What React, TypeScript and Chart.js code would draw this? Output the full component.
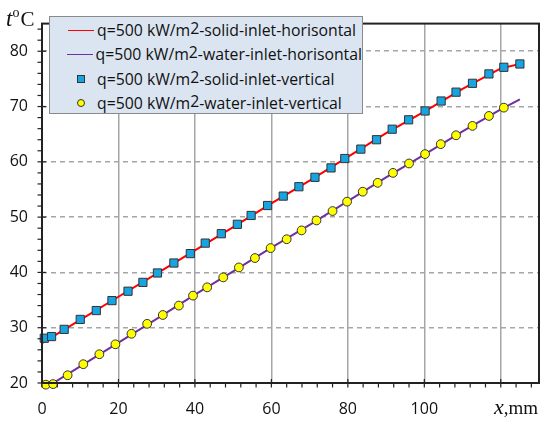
import { useEffect, useRef } from 'react'
import { Chart, registerables, type Plugin } from 'chart.js'

Chart.register(...registerables)

const LABELS = [
  'q=500 kW/m2-solid-inlet-horisontal',
  'q=500 kW/m2-water-inlet-horisontal',
  'q=500 kW/m2-solid-inlet-vertical',
  'q=500 kW/m2-water-inlet-vertical',
]

// calculated lines
const solidLineX = [0, 10, 20, 30, 40, 50, 60, 70, 80, 90, 100, 110, 120, 125]
const solidLineY = [27.2, 31.4, 35.6, 39.8, 44.0, 48.2, 52.5, 56.6, 60.9, 65.2, 69.1, 73.2, 76.9, 77.7]
const waterLineX = [2.5, 10, 20, 30, 40, 50, 60, 70, 80, 90, 100, 110, 120, 125]
const waterLineY = [19.8, 23.0, 27.3, 31.6, 36.0, 40.2, 44.5, 48.6, 52.9, 57.2, 61.3, 65.5, 69.5, 71.3]

// measured points
const solidX = [0.6, 2.5, 5.8, 10.0, 14.2, 18.3, 22.5, 26.4, 30.2, 34.5, 38.8, 42.7, 46.9, 51.1, 54.7, 59.0,
  63.1, 67.2, 71.4, 75.6, 79.2, 83.4, 87.5, 91.6, 95.9, 100.2, 104.4, 108.3, 112.6, 116.9, 120.8, 125.0]
const solidY = [28.1, 28.4, 29.7, 31.5, 33.1, 34.9, 36.6, 38.2, 39.9, 41.7, 43.4, 45.3, 47.0, 48.7, 50.3, 52.1,
  53.8, 55.5, 57.2, 58.9, 60.6, 62.3, 64.0, 65.9, 67.6, 69.2, 71.0, 72.6, 74.2, 75.9, 77.1, 77.7]
const waterX = [1.0, 2.9, 6.7, 10.8, 15.0, 19.2, 23.4, 27.5, 31.6, 35.8, 39.5, 43.2, 47.4, 51.5, 55.7, 59.8,
  64.0, 67.9, 71.8, 76.0, 79.8, 83.9, 87.8, 91.8, 96.0, 100.2, 104.3, 108.3, 112.6, 116.9, 120.8]
const waterY = [19.7, 19.8, 21.4, 23.4, 25.2, 27.0, 28.9, 30.7, 32.3, 34.0, 35.8, 37.3, 39.1, 40.9, 42.6, 44.4,
  46.0, 47.6, 49.4, 51.1, 52.8, 54.6, 56.2, 58.0, 59.7, 61.4, 63.2, 64.8, 66.5, 68.3, 69.8]

const X_MIN = 0, X_MAX = 130, X_STEP = 20, X_MINOR = 4
const Y_MIN = 20, Y_MAX = 85, Y_STEP = 10, Y_MINOR = 2

const RED = '#ff0000'
const PURPLE = '#7030a0'
const BLUE = '#17a4e0'
const YELLOW = '#ffff00'
const EDGE = '#333333'
const FONT = "'Open Sans', sans-serif"
const SERIF = "'Liberation Serif', 'DejaVu Serif', serif"

const pts = (xs: number[], ys: number[]) => xs.map((x, i) => ({ x, y: ys[i] }))

// frame, minor/major ticks and the axis titles
const framePlugin: Plugin = {
  id: 'frame',
  afterDraw(chart) {
    const { ctx, chartArea: a, scales } = chart
    const xs = scales.x, ys = scales.y
    ctx.save()
    ctx.strokeStyle = '#222'
    ctx.lineWidth = 1.2
    for (let v = X_MIN; v <= X_MAX; v += X_MINOR) {
      const px = xs.getPixelForValue(v)
      const major = v % X_STEP === 0
      ctx.beginPath()
      ctx.moveTo(px, a.bottom - (major ? 4 : 0))
      ctx.lineTo(px, a.bottom + 4.5)
      ctx.stroke()
    }
    for (let v = Y_MIN; v <= Y_MAX; v += Y_MINOR) {
      const py = ys.getPixelForValue(v)
      const major = v % Y_STEP === 0
      ctx.beginPath()
      ctx.moveTo(a.left - 4.5, py)
      ctx.lineTo(a.left + (major ? 4 : 0), py)
      ctx.stroke()
    }
    ctx.lineWidth = 2
    ctx.strokeRect(a.left, a.top, a.right - a.left, a.bottom - a.top)

    ctx.fillStyle = '#111'
    ctx.textBaseline = 'alphabetic'
    // x,mm
    ctx.font = `italic 22px ${SERIF}`
    let tx = a.right - 45
    ctx.fillText('x', tx, a.bottom + 31)
    tx += ctx.measureText('x').width
    ctx.font = `19px ${SERIF}`
    ctx.fillText(',mm', tx, a.bottom + 31)
    // t°C
    ctx.font = `italic 23px ${SERIF}`
    tx = 6
    ctx.fillText('t', tx, 26)
    tx += ctx.measureText('t').width
    ctx.font = `14px ${SERIF}`
    ctx.fillText('o', tx, 17)
    tx += ctx.measureText('o').width + 1
    ctx.font = `21px ${SERIF}`
    ctx.fillText('C', tx, 26)
    ctx.restore()
  },
}

function LegendText({ text }: { text: string }) {
  const [a, b] = text.split('m2')
  return (
    <span>
      {a}m<span style={{ position: 'relative', top: -2 }}>2</span>{b}
    </span>
  )
}

function Sample({ i }: { i: number }) {
  if (i < 2) {
    return <div style={{ width: 26, height: 0, borderTop: `1.8px solid ${i === 0 ? RED : PURPLE}` }} />
  }
  return (
    <div style={{ width: 26, display: 'flex', justifyContent: 'center' }}>
      <div style={{
        width: i === 2 ? 8 : 8.5, height: i === 2 ? 8 : 8.5, boxSizing: 'border-box',
        background: i === 2 ? BLUE : YELLOW, border: `1px solid ${EDGE}`,
        borderRadius: i === 2 ? 0 : '50%',
      }} />
    </div>
  )
}

export default function App() {
  const canvasRef = useRef<HTMLCanvasElement>(null)
  const chartRef = useRef<Chart | null>(null)

  useEffect(() => {
    document.body.style.margin = '0'
    if (!canvasRef.current) return
    chartRef.current?.destroy()
    chartRef.current = new Chart(canvasRef.current, {
      type: 'scatter',
      data: {
        datasets: [
          {
            label: LABELS[2], data: pts(solidX, solidY), order: 1, clip: false,
            pointStyle: 'rect', pointRadius: 5.8, pointBackgroundColor: BLUE,
            pointBorderColor: EDGE, pointBorderWidth: 1,
          },
          {
            label: LABELS[3], data: pts(waterX, waterY), order: 1, clip: false,
            pointStyle: 'circle', pointRadius: 4.4, pointBackgroundColor: YELLOW,
            pointBorderColor: EDGE, pointBorderWidth: 1,
          },
          {
            label: LABELS[0], data: pts(solidLineX, solidLineY), order: 2, showLine: true,
            borderColor: RED, borderWidth: 2, pointRadius: 0,
          },
          {
            label: LABELS[1], data: pts(waterLineX, waterLineY), order: 2, showLine: true,
            borderColor: PURPLE, borderWidth: 2, pointRadius: 0,
          },
        ],
      },
      options: {
        responsive: true,
        maintainAspectRatio: false,
        animation: false,
        layout: { padding: { top: 14, right: 11, left: 0, bottom: 0 } },
        plugins: { legend: { display: false }, tooltip: { enabled: false } },
        scales: {
          x: {
            type: 'linear', min: X_MIN, max: X_MAX,
            border: { display: false },
            grid: { color: '#a6a6a6', lineWidth: 1.5, drawTicks: false },
            ticks: {
              stepSize: X_STEP, includeBounds: false, padding: 17,
              color: '#111', font: { family: FONT, size: 16 },
              callback: v => (Number(v) >= 120 ? '' : String(v)),
            },
            afterFit: s => { s.height = 41 },
          },
          y: {
            type: 'linear', min: Y_MIN, max: Y_MAX,
            border: { display: false, dash: [5, 4] },
            grid: { color: '#a6a6a6', lineWidth: 1.5, drawTicks: false },
            ticks: {
              stepSize: Y_STEP, includeBounds: false, padding: 14,
              color: '#111', font: { family: FONT, size: 16 },
            },
            afterFit: s => { s.width = 42 },
          },
        },
      },
      plugins: [framePlugin],
    })
    return () => { chartRef.current?.destroy(); chartRef.current = null }
  }, [])

  return (
    <div style={{ position: 'relative', width: 550, height: 424, background: '#fff' }}>
      <canvas ref={canvasRef} />
      <div style={{
        position: 'absolute', left: 49, top: 16, width: 314, height: 98, boxSizing: 'border-box',
        background: '#dbe5f2', border: '1px solid #8a8a8a', paddingTop: 1,
        fontFamily: FONT, fontSize: 15.8, color: '#111',
      }}>
        {LABELS.map((l, i) => (
          <div key={i} style={{ display: 'flex', alignItems: 'center', height: 24.3, whiteSpace: 'nowrap' }}>
            <div style={{ width: 18 }} />
            <Sample i={i} />
            <div style={{ width: 3 }} />
            <LegendText text={l} />
          </div>
        ))}
      </div>
    </div>
  )
}
